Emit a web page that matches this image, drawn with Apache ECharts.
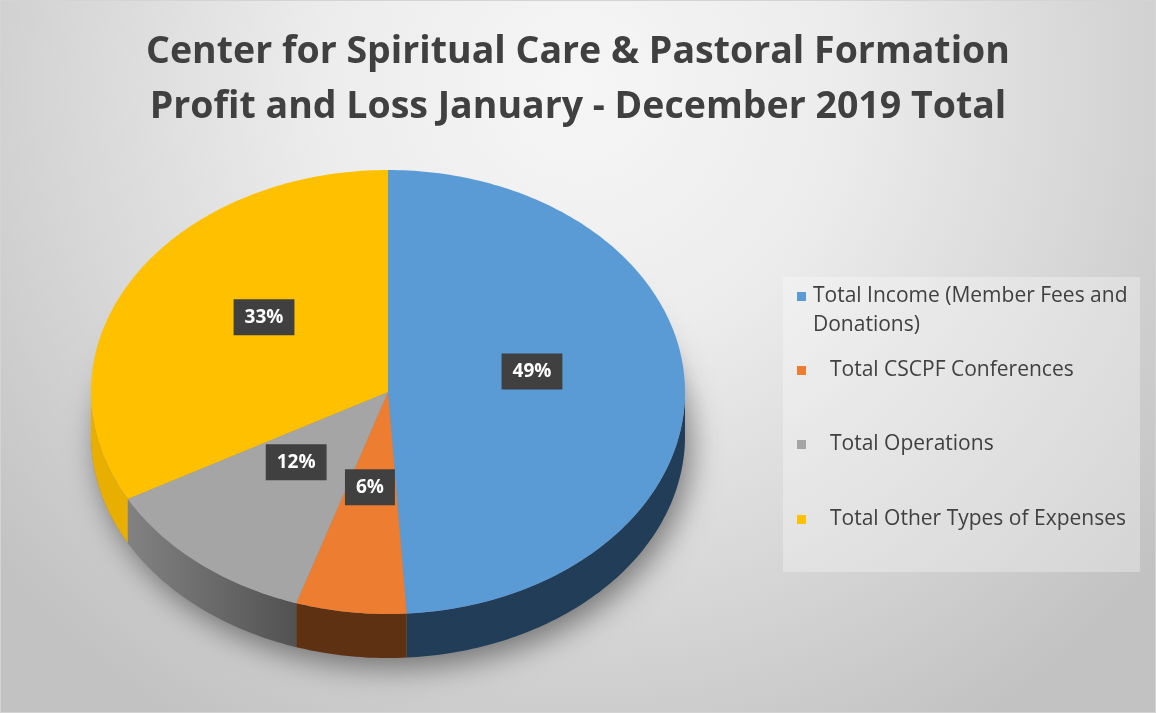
<!DOCTYPE html>
<html>
<head>
<meta charset="utf-8">
<script src="https://cdn.jsdelivr.net/npm/echarts@6/dist/echarts.min.js"></script>
<style>
html,body{margin:0;padding:0;background:#fff;}
#chart{width:1156px;height:713px;}
</style>
</head>
<body>
<div id="chart"></div>
<script>
// ---- data ----
const titleLines = ['Center for Spiritual Care & Pastoral Formation', 'Profit and Loss January - December 2019 Total'];
const categories = ['Total Income (Member Fees and Donations)', 'Total CSCPF Conferences', 'Total Operations', 'Total Other Types of Expenses'];
const values = [49, 6, 12, 33];

// ---- styles ----
const topColors = ['#5b9bd5', '#ed7d31', '#a5a5a5', '#ffc000'];
const sideColors = [
  '#223d57',
  '#5f3113',
  {type:'linear', x:0, y:0, x2:1, y2:0, colorStops:[{offset:0, color:'#828282'},{offset:1, color:'#525252'}]},
  '#e8ae00'
];
const FONT = '"Open Sans", "Liberation Sans", sans-serif';

const chart = echarts.init(document.getElementById('chart'));
const total = values.reduce((a, b) => a + b, 0);
const starts = [];
values.reduce((acc, v, i) => { starts[i] = acc; return acc + v; }, 0);

// geometry of the tilted pie
const G = {cx: 388, cy: 392, rx: 297, ry: 222, depth: 44, labelRx: 0.485, labelRy: 0.51, labelDy: -17};

function pt(t, dy) {
  return [G.cx + G.rx * Math.sin(t), G.cy - G.ry * Math.cos(t) + (dy || 0)];
}
function arc(a, b, dy) {
  const pts = [];
  const n = Math.max(2, Math.ceil((b - a) / (Math.PI / 180)));
  for (let k = 0; k <= n; k++) pts.push(pt(a + (b - a) * k / n, dy));
  return pts;
}

function makeRender(i) {
  return function (params, api) {
    const v = api.value(0);
    const a = starts[i] / total * Math.PI * 2;
    const b = a + v / total * Math.PI * 2;
    const children = [];
    if (i === 0) {
      children.push({
        type: 'ellipse', z2: 0,
        shape: {cx: G.cx, cy: G.cy + G.depth, rx: G.rx, ry: G.ry},
        style: {fill: '#888', shadowBlur: 30, shadowColor: 'rgba(0,0,0,0.45)', shadowOffsetX: 6, shadowOffsetY: 10}
      });
    }
    // visible side wall (front half: PI/2 .. 3PI/2)
    const sa = Math.max(a, Math.PI / 2), sb = Math.min(b, Math.PI * 1.5);
    if (sb > sa) {
      const upper = arc(sa, sb, 0);
      const lower = arc(sa, sb, G.depth).reverse();
      children.push({
        type: 'polygon', z2: 1,
        shape: {points: upper.concat(lower)},
        style: {fill: sideColors[i]}
      });
    }
    // top face
    children.push({
      type: 'polygon', z2: 5,
      shape: {points: [[G.cx, G.cy]].concat(arc(a, b, 0))},
      style: {fill: api.visual('color')}
    });
    // data label
    const m = (a + b) / 2;
    const lp = [G.cx + G.rx * G.labelRx * Math.sin(m), G.cy - G.ry * G.labelRy * Math.cos(m) + G.labelDy];
    children.push({
      type: 'text', z2: 10,
      x: lp[0], y: lp[1],
      style: {
        text: Math.round(v / total * 100) + '%',
        align: 'center', verticalAlign: 'middle',
        fill: '#ffffff', font: 'bold 19px ' + FONT,
        backgroundColor: '#404040', padding: [9, 11, 8, 11],
        boxShadowBlur: 6, boxShadowColor: 'rgba(0,0,0,0.55)', boxShadowOffsetX: 3, boxShadowOffsetY: 3
      }
    });
    return {type: 'group', children: children};
  };
}

const series = categories.map((name, i) => ({
  type: 'custom',
  name: name,
  coordinateSystem: 'none',
  color: topColors[i],
  data: [[values[i]]],
  renderItem: makeRender(i),
  silent: true
}));

const legendTops = [248, 351, 425, 500];
const legendText = {color: '#404040', fontSize: 21, fontFamily: FONT, lineHeight: 29};
const legends = categories.map((name, i) => ({
  data: [name],
  left: 792,
  top: legendTops[i],
  icon: 'rect',
  itemWidth: 9,
  itemHeight: 9,
  itemGap: 0,
  selectedMode: false,
  formatter: i === 0 ? '{s| }\n{t|Total Income (Member Fees and}\n{t|Donations)}' : '{name}',
  textStyle: Object.assign({}, legendText, {
    padding: i === 0 ? [0, 0, 0, 2] : [0, 0, 0, 19],
    rich: {s: {lineHeight: 29, fontSize: 21}, t: Object.assign({}, legendText)}
  })
}));

chart.setOption({
  animation: false,
  title: {
    text: titleLines.join('\n'),
    left: 'center',
    top: 20,
    textStyle: {color: '#404040', fontSize: 37.5, fontWeight: 'bold', fontFamily: FONT, lineHeight: 55}
  },
  graphic: [
    {
      type: 'rect', z: -10, silent: true,
      shape: {x: 0, y: 0, width: 1156, height: 713},
      style: {
        fill: {type: 'radial', x: 0.5, y: 0.12, r: 1.05, colorStops: [
          {offset: 0, color: '#f6f6f6'},
          {offset: 0.35, color: '#ececec'},
          {offset: 0.7, color: '#d6d6d6'},
          {offset: 1, color: '#c2c2c2'}
        ]},
        stroke: '#d4d4d4', lineWidth: 2
      }
    },
    {
      type: 'rect', z: -9, silent: true,
      shape: {x: 783, y: 277, width: 357, height: 295},
      style: {fill: 'rgba(255,255,255,0.3)'}
    }
  ],
  legend: legends,
  series: series
});
</script>
</body>
</html>
